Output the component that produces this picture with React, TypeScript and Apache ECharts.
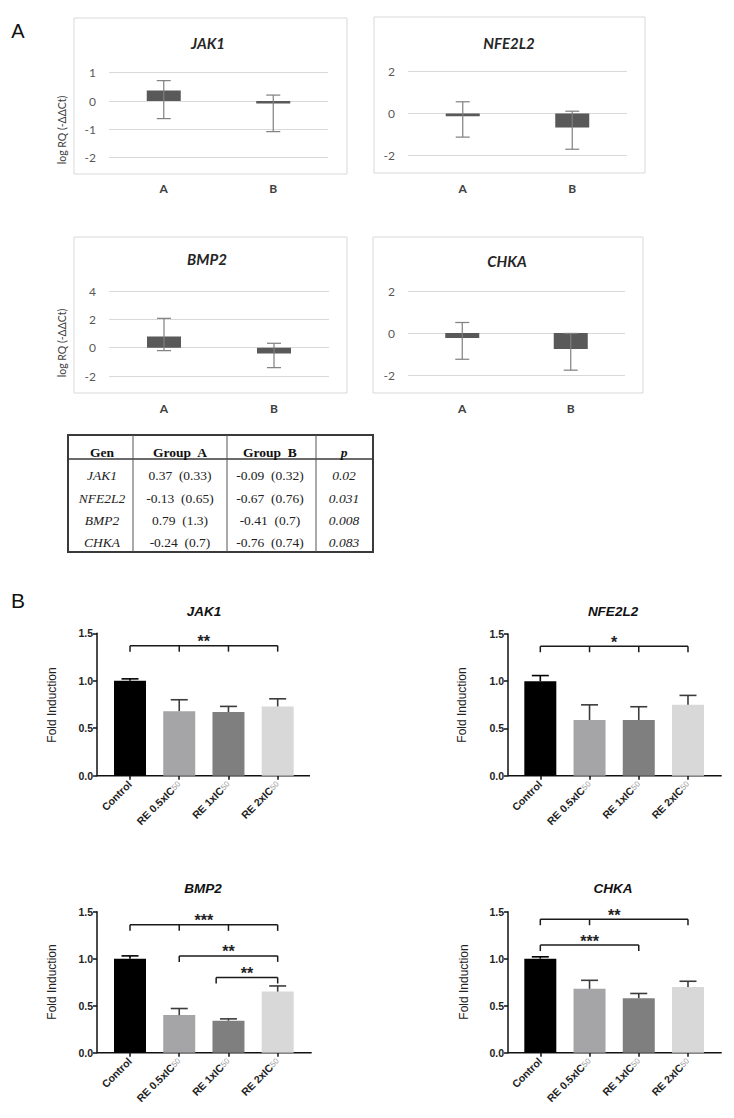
import React, { useEffect, useRef } from "react";
import * as echarts from "echarts";

// ---------- Panel A data ----------
const genes = ["JAK1", "NFE2L2", "BMP2", "CHKA"];
const groups = ["A", "B"];
const groupAMean = [0.37, -0.13, 0.79, -0.24];
const groupASD = [0.33, 0.65, 1.3, 0.7];
const groupBMean = [-0.09, -0.67, -0.41, -0.76];
const groupBSD = [0.32, 0.76, 0.7, 0.74];
const pValues = ["0.02", "0.031", "0.008", "0.083"];
// whisker ends: [group A, group B]
const whiskerLowA = [[-0.62, -1.08], [-1.13, -1.71], [-0.21, -1.41], [-1.25, -1.77]];
const whiskerHighA = [[0.72, 0.21], [0.56, 0.11], [2.07, 0.31], [0.5, -0.02]];
const yMinA = [-2, -2, -2, -2];
const yMaxA = [1, 2, 4, 2];
const yStepA = [1, 2, 2, 2];

// ---------- Panel B data ----------
const treatments = ["Control", "RE 0.5xIC50", "RE 1xIC50", "RE 2xIC50"];
const foldJAK1 = [1.0, 0.68, 0.67, 0.73];
const foldNFE2L2 = [1.0, 0.59, 0.59, 0.75];
const foldBMP2 = [1.0, 0.4, 0.34, 0.65];
const foldCHKA = [1.0, 0.68, 0.58, 0.7];
const errTopJAK1 = [1.02, 0.8, 0.73, 0.81];
const errTopNFE2L2 = [1.06, 0.75, 0.73, 0.85];
const errTopBMP2 = [1.03, 0.47, 0.36, 0.71];
const errTopCHKA = [1.02, 0.77, 0.63, 0.76];
const bracketsJAK1 = [{ from: 0, to: 3, y: 1.37, ticks: [1, 2], stars: "**" }];
const bracketsNFE2L2 = [{ from: 0, to: 3, y: 1.37, ticks: [1, 2], stars: "*" }];
const bracketsBMP2 = [
  { from: 0, to: 3, y: 1.36, ticks: [1, 2], stars: "***" },
  { from: 1, to: 3, y: 1.03, ticks: [], stars: "**" },
  { from: 1.75, to: 3, y: 0.8, ticks: [], stars: "**" },
];
const bracketsCHKA = [
  { from: 0, to: 3, y: 1.42, ticks: [1], stars: "**" },
  { from: 0, to: 2, y: 1.145, ticks: [], stars: "***" },
];

const foldB = [foldJAK1, foldNFE2L2, foldBMP2, foldCHKA];
const errTopB = [errTopJAK1, errTopNFE2L2, errTopBMP2, errTopCHKA];
const bracketsB = [bracketsJAK1, bracketsNFE2L2, bracketsBMP2, bracketsCHKA];
const treatmentColors = ["#000000", "#a5a5a7", "#7f7f7f", "#d8d8d8"];
const errColors = ["#000000", "#3c3c3c", "#3c3c3c", "#3c3c3c"];

const FA = "Lato, 'Liberation Sans', sans-serif";
const FB = "'Liberation Sans', Arial, sans-serif";
const FT = "'Liberation Serif', 'Times New Roman', serif";

const aLayout = [
  { box: [74, 18, 273, 156], grid: [109, 72.7, 219, 85], title: [208, 43], yName: [62, 130], margin: 25 },
  { box: [374, 17, 271, 156], grid: [408, 71.7, 219, 83.6], title: [509, 43], yName: null, margin: 27 },
  { box: [74, 237, 273, 156], grid: [109, 291, 220, 85], title: [207, 259], yName: [62, 343], margin: 26 },
  { box: [373, 237, 270, 156], grid: [408, 291, 217, 84], title: [507, 261], yName: null, margin: 27 },
];
const bLayout = [
  { grid: [105.4, 633.3, 196.9, 142.4], axisX: 97, axisEnd: 310, title: [204, 611], yName: [52, 705] },
  { grid: [515.7, 634, 196.9, 141.7], axisX: 508, axisEnd: 721.7, title: [613, 611], yName: [462, 705] },
  { grid: [105.4, 911.7, 196.9, 141], axisX: 97, axisEnd: 311.7, title: [203, 888], yName: [52, 982] },
  { grid: [515.7, 911.7, 196.9, 141], axisX: 508, axisEnd: 721.7, title: [613, 888], yName: [464, 982] },
];

function txt(x: number, y: number, text: string, font: any, extra: any = {}) {
  return {
    type: "text",
    x,
    y,
    rotation: extra.rotation || 0,
    silent: true,
    style: {
      text,
      fill: font.fill || "#222",
      fontSize: font.size,
      fontWeight: font.weight || "normal",
      fontStyle: font.style || "normal",
      fontFamily: font.family,
      align: extra.align || "center",
      verticalAlign: "middle",
      textAlign: extra.align || "center",
      textVerticalAlign: "middle",
    },
  };
}

function line(x1: number, y1: number, x2: number, y2: number, stroke: string, lineWidth: number) {
  return { type: "line", silent: true, shape: { x1, y1, x2, y2 }, style: { stroke, lineWidth } };
}

function xAt(api: any, v: number) {
  const f = Math.floor(v);
  const a = api.coord([f, 0])[0];
  if (v === f) return a;
  const b = api.coord([f + 1, 0])[0];
  return a + (b - a) * (v - f);
}

function buildOption() {
  const grid: any[] = [];
  const xAxis: any[] = [];
  const yAxis: any[] = [];
  const series: any[] = [];
  const graphic: any[] = [];

  graphic.push(txt(18, 31, "A", { size: 20, family: FB, fill: "#111" }));
  graphic.push(txt(18, 600, "B", { size: 21, family: FB, fill: "#111" }));

  // ---------- Panel A ----------
  genes.forEach((g, k) => {
    const L = aLayout[k];
    const gi = grid.length;
    grid.push({ left: L.grid[0], top: L.grid[1], width: L.grid[2], height: L.grid[3] });
    graphic.push({
      type: "rect",
      silent: true,
      shape: { x: L.box[0], y: L.box[1], width: L.box[2], height: L.box[3] },
      style: { fill: "none", stroke: "#d9d9d9", lineWidth: 1 },
    });
    graphic.push(txt(L.title[0], L.title[1], g, { size: 15, weight: "bold", style: "italic", family: FA, fill: "#262626" }));
    if (L.yName) {
      graphic.push(
        txt(L.yName[0], L.yName[1], "log RQ (-ΔΔCt)", { size: 10.5, family: FA, fill: "#404040" }, { rotation: Math.PI / 2 })
      );
    }
    xAxis.push({
      type: "category",
      gridIndex: gi,
      data: groups,
      axisLine: { show: false },
      axisTick: { show: false },
      axisLabel: { margin: L.margin, fontSize: 12, fontWeight: "bold", color: "#404040", fontFamily: FA },
    });
    yAxis.push({
      type: "value",
      gridIndex: gi,
      min: yMinA[k],
      max: yMaxA[k],
      interval: yStepA[k],
      axisLine: { show: false },
      axisTick: { show: false },
      splitLine: { show: true, lineStyle: { color: "#d9d9d9", width: 1 } },
      axisLabel: { margin: 13, fontSize: 12, color: "#595959", fontFamily: FA },
    });
    series.push({
      type: "bar",
      xAxisIndex: gi,
      yAxisIndex: gi,
      barWidth: 34,
      itemStyle: { color: "#595959" },
      data: [groupAMean[k], groupBMean[k]],
      z: 2,
    });
    series.push({
      type: "custom",
      xAxisIndex: gi,
      yAxisIndex: gi,
      z: 3,
      encode: { x: 0, y: [1, 2] },
      data: groups.map((_, i) => [i, whiskerLowA[k][i], whiskerHighA[k][i]]),
      renderItem: (params: any, api: any) => {
        const i = api.value(0);
        const lo = api.coord([i, api.value(1)]);
        const hi = api.coord([i, api.value(2)]);
        const cw = 7;
        const st = { stroke: "#7f7f7f", lineWidth: 1.2 };
        return {
          type: "group",
          children: [
            { type: "line", shape: { x1: lo[0], y1: lo[1], x2: hi[0], y2: hi[1] }, style: st },
            { type: "line", shape: { x1: hi[0] - cw, y1: hi[1], x2: hi[0] + cw, y2: hi[1] }, style: st },
            { type: "line", shape: { x1: lo[0] - cw, y1: lo[1], x2: lo[0] + cw, y2: lo[1] }, style: st },
          ],
        };
      },
    });
  });

  // ---------- Table ----------
  const tx0 = 68, tx1 = 373, ty0 = 435, ty1 = 552, hy = 459;
  const colX = [133, 227, 316];
  const colC = [102, 180, 270, 344];
  const rowY = [475, 498, 520, 542];
  graphic.push({
    type: "rect",
    silent: true,
    shape: { x: tx0, y: ty0, width: tx1 - tx0, height: ty1 - ty0 },
    style: { fill: "#fff", stroke: "#3a3a3a", lineWidth: 2 },
  });
  graphic.push(line(tx0, hy, tx1, hy, "#3a3a3a", 1.5));
  colX.forEach((x) => graphic.push(line(x, ty0, x, ty1, "#555", 1)));
  const hf = { size: 13.5, weight: "bold", family: FT, fill: "#111" };
  graphic.push(txt(colC[0], 452, "Gen", hf));
  graphic.push(txt(colC[1], 452, "Group  A", hf));
  graphic.push(txt(colC[2], 452, "Group  B", hf));
  graphic.push(txt(colC[3], 452, "p", { ...hf, style: "italic" }));
  genes.forEach((g, r) => {
    const y = rowY[r];
    graphic.push(txt(colC[0], y, g, { size: 13.5, style: "italic", family: FT, fill: "#222" }));
    graphic.push(txt(colC[1], y, `${groupAMean[r]}  (${groupASD[r]})`, { size: 13.5, family: FT, fill: "#222" }));
    graphic.push(txt(colC[2], y, `${groupBMean[r]}  (${groupBSD[r]})`, { size: 13.5, family: FT, fill: "#222" }));
    graphic.push(txt(colC[3], y, pValues[r], { size: 13.5, style: "italic", family: FT, fill: "#222" }));
  });

  // ---------- Panel B ----------
  genes.forEach((g, k) => {
    const L = bLayout[k];
    const gi = grid.length;
    const [gl, gt, gw, gh] = L.grid;
    grid.push({ left: gl, top: gt, width: gw, height: gh });
    graphic.push(txt(L.title[0], L.title[1], g, { size: 13.5, weight: "bold", style: "italic", family: FB, fill: "#111" }));
    graphic.push(
      txt(L.yName[0], L.yName[1], "Fold Induction", { size: 12, family: FB, fill: "#222" }, { rotation: Math.PI / 2 })
    );
    graphic.push(line(L.axisX, gt + gh, L.axisEnd, gt + gh, "#111", 1.5));
    xAxis.push({
      type: "category",
      gridIndex: gi,
      data: treatments,
      axisLine: { show: false },
      axisTick: { show: true, alignWithLabel: true, length: 4, lineStyle: { color: "#111", width: 1.5 } },
      axisLabel: {
        rotate: 45,
        margin: 7,
        interval: 0,
        formatter: (v: string) => (v.endsWith("IC50") ? `{m|${v.slice(0, -2)}}{s|50}` : `{m|${v}}`),
        rich: {
          m: { fontSize: 10.5, fontWeight: "bold", color: "#222", fontFamily: FB },
          s: { fontSize: 8, color: "#9a9a9a", fontFamily: FB },
        },
      },
    });
    yAxis.push({
      type: "value",
      gridIndex: gi,
      min: 0,
      max: 1.5,
      interval: 0.5,
      offset: gl - L.axisX,
      axisLine: { show: true, lineStyle: { color: "#111", width: 1.5 } },
      axisTick: { show: true, length: 4, lineStyle: { color: "#111", width: 1.5 } },
      splitLine: { show: false },
      axisLabel: {
        margin: 4,
        fontSize: 10.5,
        fontWeight: "bold",
        color: "#222",
        fontFamily: FB,
        formatter: (v: number) => v.toFixed(1),
      },
    });
    series.push({
      type: "bar",
      xAxisIndex: gi,
      yAxisIndex: gi,
      barWidth: 32,
      z: 2,
      data: foldB[k].map((v, i) => ({ value: v, itemStyle: { color: treatmentColors[i] } })),
    });
    series.push({
      type: "custom",
      xAxisIndex: gi,
      yAxisIndex: gi,
      z: 3,
      encode: { x: 0, y: [1, 2] },
      data: treatments.map((_, i) => [i, foldB[k][i], errTopB[k][i]]),
      renderItem: (params: any, api: any) => {
        const i = api.value(0);
        const lo = api.coord([i, api.value(1)]);
        const hi = api.coord([i, api.value(2)]);
        const cw = 8.5;
        const st = { stroke: errColors[i], lineWidth: 1.6 };
        return {
          type: "group",
          children: [
            { type: "line", shape: { x1: lo[0], y1: lo[1], x2: hi[0], y2: hi[1] }, style: st },
            { type: "line", shape: { x1: hi[0] - cw, y1: hi[1], x2: hi[0] + cw, y2: hi[1] }, style: st },
          ],
        };
      },
    });
    const brs = bracketsB[k];
    series.push({
      type: "custom",
      xAxisIndex: gi,
      yAxisIndex: gi,
      z: 4,
      encode: { x: 0, y: 1 },
      data: brs.map((b) => [Math.floor(b.from), b.y]),
      renderItem: (params: any, api: any) => {
        const b = brs[params.dataIndex];
        const x0 = xAt(api, b.from);
        const x1 = xAt(api, b.to);
        const y = api.coord([0, b.y])[1];
        const d = 6;
        const st = { stroke: "#1a1a1a", lineWidth: 1.5 };
        const children: any[] = [
          { type: "line", shape: { x1: x0, y1: y, x2: x1, y2: y }, style: st },
          { type: "line", shape: { x1: x0, y1: y, x2: x0, y2: y + d }, style: st },
          { type: "line", shape: { x1: x1, y1: y, x2: x1, y2: y + d }, style: st },
        ];
        b.ticks.forEach((t) => {
          const xt = xAt(api, t);
          children.push({ type: "line", shape: { x1: xt, y1: y, x2: xt, y2: y + d }, style: st });
        });
        children.push({
          type: "text",
          style: {
            text: b.stars,
            x: (x0 + x1) / 2,
            y: y - 4,
            fill: "#222",
            fontSize: 16,
            fontWeight: "bold",
            fontFamily: FB,
            align: "center",
            verticalAlign: "middle",
            textAlign: "center",
            textVerticalAlign: "middle",
          },
        });
        return { type: "group", children };
      },
    });
  });

  return {
    animation: false,
    backgroundColor: "#ffffff",
    grid,
    xAxis,
    yAxis,
    series,
    graphic,
  };
}

export default function App() {
  const ref = useRef<HTMLDivElement>(null);
  useEffect(() => {
    if (!ref.current) return;
    const chart = echarts.init(ref.current, undefined, { renderer: "svg" });
    chart.setOption(buildOption() as any);
    return () => chart.dispose();
  }, []);
  return (
    <div
      ref={ref}
      style={{ position: "absolute", left: 0, top: 0, width: 734, height: 1118, background: "#fff" }}
    />
  );
}
